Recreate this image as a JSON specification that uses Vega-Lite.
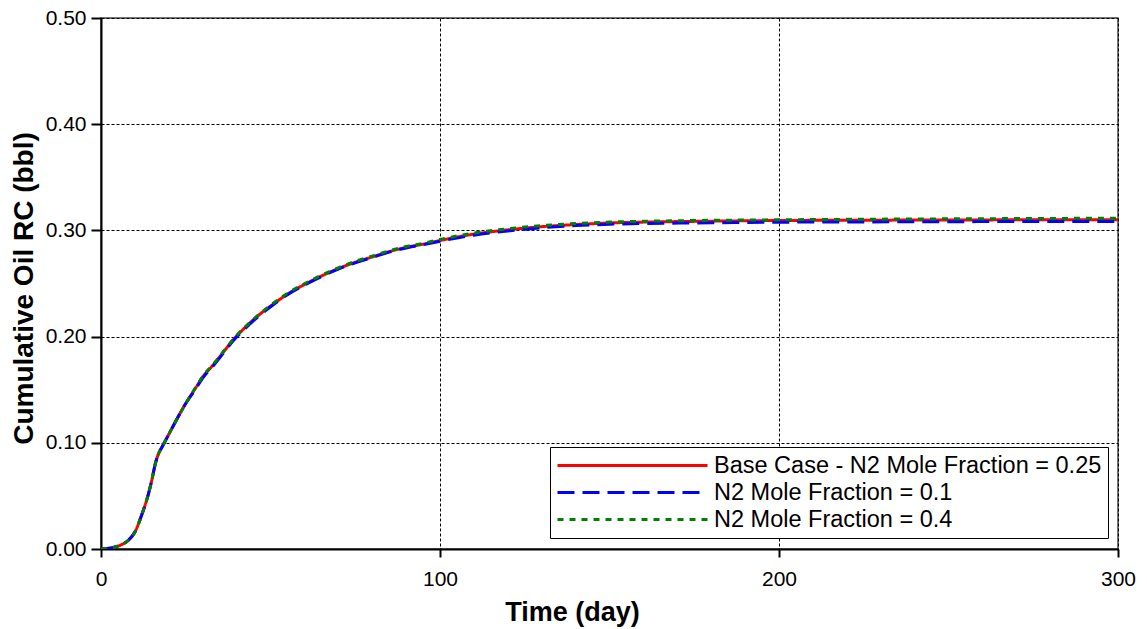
{
  "$schema": "https://vega.github.io/schema/vega-lite/v6.json",
  "autosize": {"type": "none"},
  "width": 1017,
  "height": 531,
  "padding": {"left": 101, "top": 18, "right": 29, "bottom": 80},
  "background": "white",
  "config": {
    "font": "Liberation Sans",
    "view": {"stroke": "#444", "strokeWidth": 1.5},
    "axis": {
      "domainColor": "black", "domainWidth": 2,
      "tickColor": "black", "tickWidth": 2,
      "gridColor": "black", "gridWidth": 1, "gridDash": [3, 2], "gridOpacity": 1,
      "labelColor": "black", "labelFont": "Liberation Sans", "labelFontSize": 21, "labelFlush": false,
      "titleColor": "black", "titleFont": "Liberation Sans", "titleFontSize": 27, "titleFontWeight": "bold"
    }
  },
  "data": {"values": [
    {"day": 0, "v": 0, "s": "Base Case - N2 Mole Fraction = 0.25"},
    {"day": 3, "v": 0.001, "s": "Base Case - N2 Mole Fraction = 0.25"},
    {"day": 6, "v": 0.004, "s": "Base Case - N2 Mole Fraction = 0.25"},
    {"day": 8, "v": 0.008, "s": "Base Case - N2 Mole Fraction = 0.25"},
    {"day": 10, "v": 0.016, "s": "Base Case - N2 Mole Fraction = 0.25"},
    {"day": 12, "v": 0.032, "s": "Base Case - N2 Mole Fraction = 0.25"},
    {"day": 14, "v": 0.052, "s": "Base Case - N2 Mole Fraction = 0.25"},
    {"day": 15, "v": 0.065, "s": "Base Case - N2 Mole Fraction = 0.25"},
    {"day": 16, "v": 0.08, "s": "Base Case - N2 Mole Fraction = 0.25"},
    {"day": 17, "v": 0.09, "s": "Base Case - N2 Mole Fraction = 0.25"},
    {"day": 18, "v": 0.096, "s": "Base Case - N2 Mole Fraction = 0.25"},
    {"day": 20, "v": 0.108, "s": "Base Case - N2 Mole Fraction = 0.25"},
    {"day": 22, "v": 0.12, "s": "Base Case - N2 Mole Fraction = 0.25"},
    {"day": 25, "v": 0.137, "s": "Base Case - N2 Mole Fraction = 0.25"},
    {"day": 28, "v": 0.152, "s": "Base Case - N2 Mole Fraction = 0.25"},
    {"day": 30, "v": 0.162, "s": "Base Case - N2 Mole Fraction = 0.25"},
    {"day": 33, "v": 0.173, "s": "Base Case - N2 Mole Fraction = 0.25"},
    {"day": 36, "v": 0.185, "s": "Base Case - N2 Mole Fraction = 0.25"},
    {"day": 39, "v": 0.197, "s": "Base Case - N2 Mole Fraction = 0.25"},
    {"day": 42, "v": 0.207, "s": "Base Case - N2 Mole Fraction = 0.25"},
    {"day": 45, "v": 0.216, "s": "Base Case - N2 Mole Fraction = 0.25"},
    {"day": 48, "v": 0.224, "s": "Base Case - N2 Mole Fraction = 0.25"},
    {"day": 51, "v": 0.231, "s": "Base Case - N2 Mole Fraction = 0.25"},
    {"day": 55, "v": 0.24, "s": "Base Case - N2 Mole Fraction = 0.25"},
    {"day": 60, "v": 0.249, "s": "Base Case - N2 Mole Fraction = 0.25"},
    {"day": 65, "v": 0.257, "s": "Base Case - N2 Mole Fraction = 0.25"},
    {"day": 70, "v": 0.264, "s": "Base Case - N2 Mole Fraction = 0.25"},
    {"day": 75, "v": 0.27, "s": "Base Case - N2 Mole Fraction = 0.25"},
    {"day": 80, "v": 0.275, "s": "Base Case - N2 Mole Fraction = 0.25"},
    {"day": 85, "v": 0.28, "s": "Base Case - N2 Mole Fraction = 0.25"},
    {"day": 90, "v": 0.284, "s": "Base Case - N2 Mole Fraction = 0.25"},
    {"day": 95, "v": 0.287, "s": "Base Case - N2 Mole Fraction = 0.25"},
    {"day": 100, "v": 0.2905, "s": "Base Case - N2 Mole Fraction = 0.25"},
    {"day": 110, "v": 0.2965, "s": "Base Case - N2 Mole Fraction = 0.25"},
    {"day": 120, "v": 0.3005, "s": "Base Case - N2 Mole Fraction = 0.25"},
    {"day": 130, "v": 0.3035, "s": "Base Case - N2 Mole Fraction = 0.25"},
    {"day": 140, "v": 0.3055, "s": "Base Case - N2 Mole Fraction = 0.25"},
    {"day": 150, "v": 0.307, "s": "Base Case - N2 Mole Fraction = 0.25"},
    {"day": 160, "v": 0.3078, "s": "Base Case - N2 Mole Fraction = 0.25"},
    {"day": 175, "v": 0.3085, "s": "Base Case - N2 Mole Fraction = 0.25"},
    {"day": 200, "v": 0.3093, "s": "Base Case - N2 Mole Fraction = 0.25"},
    {"day": 225, "v": 0.3096, "s": "Base Case - N2 Mole Fraction = 0.25"},
    {"day": 250, "v": 0.3098, "s": "Base Case - N2 Mole Fraction = 0.25"},
    {"day": 275, "v": 0.31, "s": "Base Case - N2 Mole Fraction = 0.25"},
    {"day": 300, "v": 0.3101, "s": "Base Case - N2 Mole Fraction = 0.25"},

    {"day": 0, "v": 0, "s": "N2 Mole Fraction = 0.1"},
    {"day": 3, "v": 0.001, "s": "N2 Mole Fraction = 0.1"},
    {"day": 6, "v": 0.004, "s": "N2 Mole Fraction = 0.1"},
    {"day": 8, "v": 0.008, "s": "N2 Mole Fraction = 0.1"},
    {"day": 10, "v": 0.016, "s": "N2 Mole Fraction = 0.1"},
    {"day": 12, "v": 0.032, "s": "N2 Mole Fraction = 0.1"},
    {"day": 14, "v": 0.052, "s": "N2 Mole Fraction = 0.1"},
    {"day": 15, "v": 0.065, "s": "N2 Mole Fraction = 0.1"},
    {"day": 16, "v": 0.08, "s": "N2 Mole Fraction = 0.1"},
    {"day": 17, "v": 0.09, "s": "N2 Mole Fraction = 0.1"},
    {"day": 18, "v": 0.096, "s": "N2 Mole Fraction = 0.1"},
    {"day": 20, "v": 0.108, "s": "N2 Mole Fraction = 0.1"},
    {"day": 22, "v": 0.12, "s": "N2 Mole Fraction = 0.1"},
    {"day": 25, "v": 0.137, "s": "N2 Mole Fraction = 0.1"},
    {"day": 28, "v": 0.151, "s": "N2 Mole Fraction = 0.1"},
    {"day": 30, "v": 0.161, "s": "N2 Mole Fraction = 0.1"},
    {"day": 33, "v": 0.172, "s": "N2 Mole Fraction = 0.1"},
    {"day": 36, "v": 0.184, "s": "N2 Mole Fraction = 0.1"},
    {"day": 39, "v": 0.196, "s": "N2 Mole Fraction = 0.1"},
    {"day": 42, "v": 0.206, "s": "N2 Mole Fraction = 0.1"},
    {"day": 45, "v": 0.215, "s": "N2 Mole Fraction = 0.1"},
    {"day": 48, "v": 0.223, "s": "N2 Mole Fraction = 0.1"},
    {"day": 51, "v": 0.2305, "s": "N2 Mole Fraction = 0.1"},
    {"day": 55, "v": 0.2395, "s": "N2 Mole Fraction = 0.1"},
    {"day": 60, "v": 0.2485, "s": "N2 Mole Fraction = 0.1"},
    {"day": 65, "v": 0.2565, "s": "N2 Mole Fraction = 0.1"},
    {"day": 70, "v": 0.2635, "s": "N2 Mole Fraction = 0.1"},
    {"day": 75, "v": 0.2695, "s": "N2 Mole Fraction = 0.1"},
    {"day": 80, "v": 0.2745, "s": "N2 Mole Fraction = 0.1"},
    {"day": 85, "v": 0.2795, "s": "N2 Mole Fraction = 0.1"},
    {"day": 90, "v": 0.2835, "s": "N2 Mole Fraction = 0.1"},
    {"day": 95, "v": 0.2865, "s": "N2 Mole Fraction = 0.1"},
    {"day": 100, "v": 0.2898, "s": "N2 Mole Fraction = 0.1"},
    {"day": 110, "v": 0.2955, "s": "N2 Mole Fraction = 0.1"},
    {"day": 120, "v": 0.2995, "s": "N2 Mole Fraction = 0.1"},
    {"day": 130, "v": 0.3025, "s": "N2 Mole Fraction = 0.1"},
    {"day": 140, "v": 0.3045, "s": "N2 Mole Fraction = 0.1"},
    {"day": 150, "v": 0.3058, "s": "N2 Mole Fraction = 0.1"},
    {"day": 160, "v": 0.3065, "s": "N2 Mole Fraction = 0.1"},
    {"day": 175, "v": 0.307, "s": "N2 Mole Fraction = 0.1"},
    {"day": 200, "v": 0.3077, "s": "N2 Mole Fraction = 0.1"},
    {"day": 225, "v": 0.308, "s": "N2 Mole Fraction = 0.1"},
    {"day": 250, "v": 0.3082, "s": "N2 Mole Fraction = 0.1"},
    {"day": 275, "v": 0.3084, "s": "N2 Mole Fraction = 0.1"},
    {"day": 300, "v": 0.3085, "s": "N2 Mole Fraction = 0.1"},

    {"day": 0, "v": 0, "s": "N2 Mole Fraction = 0.4"},
    {"day": 3, "v": 0.001, "s": "N2 Mole Fraction = 0.4"},
    {"day": 6, "v": 0.004, "s": "N2 Mole Fraction = 0.4"},
    {"day": 8, "v": 0.008, "s": "N2 Mole Fraction = 0.4"},
    {"day": 10, "v": 0.016, "s": "N2 Mole Fraction = 0.4"},
    {"day": 12, "v": 0.032, "s": "N2 Mole Fraction = 0.4"},
    {"day": 14, "v": 0.052, "s": "N2 Mole Fraction = 0.4"},
    {"day": 15, "v": 0.065, "s": "N2 Mole Fraction = 0.4"},
    {"day": 16, "v": 0.08, "s": "N2 Mole Fraction = 0.4"},
    {"day": 17, "v": 0.09, "s": "N2 Mole Fraction = 0.4"},
    {"day": 18, "v": 0.096, "s": "N2 Mole Fraction = 0.4"},
    {"day": 20, "v": 0.108, "s": "N2 Mole Fraction = 0.4"},
    {"day": 22, "v": 0.12, "s": "N2 Mole Fraction = 0.4"},
    {"day": 25, "v": 0.137, "s": "N2 Mole Fraction = 0.4"},
    {"day": 28, "v": 0.1525, "s": "N2 Mole Fraction = 0.4"},
    {"day": 30, "v": 0.1625, "s": "N2 Mole Fraction = 0.4"},
    {"day": 33, "v": 0.1735, "s": "N2 Mole Fraction = 0.4"},
    {"day": 36, "v": 0.1855, "s": "N2 Mole Fraction = 0.4"},
    {"day": 39, "v": 0.1975, "s": "N2 Mole Fraction = 0.4"},
    {"day": 42, "v": 0.2075, "s": "N2 Mole Fraction = 0.4"},
    {"day": 45, "v": 0.2165, "s": "N2 Mole Fraction = 0.4"},
    {"day": 48, "v": 0.2245, "s": "N2 Mole Fraction = 0.4"},
    {"day": 51, "v": 0.2318, "s": "N2 Mole Fraction = 0.4"},
    {"day": 55, "v": 0.2408, "s": "N2 Mole Fraction = 0.4"},
    {"day": 60, "v": 0.2498, "s": "N2 Mole Fraction = 0.4"},
    {"day": 65, "v": 0.2578, "s": "N2 Mole Fraction = 0.4"},
    {"day": 70, "v": 0.2648, "s": "N2 Mole Fraction = 0.4"},
    {"day": 75, "v": 0.2708, "s": "N2 Mole Fraction = 0.4"},
    {"day": 80, "v": 0.2758, "s": "N2 Mole Fraction = 0.4"},
    {"day": 85, "v": 0.2808, "s": "N2 Mole Fraction = 0.4"},
    {"day": 90, "v": 0.2848, "s": "N2 Mole Fraction = 0.4"},
    {"day": 95, "v": 0.2878, "s": "N2 Mole Fraction = 0.4"},
    {"day": 100, "v": 0.2915, "s": "N2 Mole Fraction = 0.4"},
    {"day": 110, "v": 0.2975, "s": "N2 Mole Fraction = 0.4"},
    {"day": 120, "v": 0.3015, "s": "N2 Mole Fraction = 0.4"},
    {"day": 130, "v": 0.3045, "s": "N2 Mole Fraction = 0.4"},
    {"day": 140, "v": 0.3065, "s": "N2 Mole Fraction = 0.4"},
    {"day": 150, "v": 0.3078, "s": "N2 Mole Fraction = 0.4"},
    {"day": 160, "v": 0.3086, "s": "N2 Mole Fraction = 0.4"},
    {"day": 175, "v": 0.3093, "s": "N2 Mole Fraction = 0.4"},
    {"day": 200, "v": 0.31, "s": "N2 Mole Fraction = 0.4"},
    {"day": 225, "v": 0.3105, "s": "N2 Mole Fraction = 0.4"},
    {"day": 250, "v": 0.3109, "s": "N2 Mole Fraction = 0.4"},
    {"day": 275, "v": 0.3112, "s": "N2 Mole Fraction = 0.4"},
    {"day": 300, "v": 0.3115, "s": "N2 Mole Fraction = 0.4"}
  ]},
  "mark": {"type": "line", "strokeWidth": 3, "interpolate": "monotone", "clip": true},
  "encoding": {
    "x": {
      "field": "day", "type": "quantitative",
      "scale": {"domain": [0, 300], "nice": false},
      "axis": {
        "title": "Time (day)", "values": [0, 100, 200, 300], "format": "d",
        "tickSize": 8, "labelPadding": 11,
        "titleX": 471, "titleY": 71, "titleBaseline": "alphabetic", "titleAlign": "center", "titleAnchor": null
      }
    },
    "y": {
      "field": "v", "type": "quantitative",
      "scale": {"domain": [0, 0.5], "nice": false},
      "axis": {
        "title": "Cumulative Oil RC (bbl)", "values": [0, 0.1, 0.2, 0.3, 0.4, 0.5], "format": ".2f",
        "tickSize": 10, "labelPadding": 5, "titleFontSize": 28,
        "titleX": -69, "titleY": 270, "titleAngle": -90, "titleBaseline": "alphabetic", "titleAlign": "center", "titleAnchor": null
      }
    },
    "color": {
      "field": "s", "type": "nominal",
      "scale": {
        "domain": ["Base Case - N2 Mole Fraction = 0.25", "N2 Mole Fraction = 0.1", "N2 Mole Fraction = 0.4"],
        "range": ["#ff0000", "#0000ff", "#008000"]
      },
      "legend": {
        "title": null, "orient": "none", "legendX": 449, "legendY": 429,
        "symbolType": "stroke", "symbolSize": 22500, "symbolStrokeWidth": 3,
        "clipHeight": 25, "rowPadding": 2, "padding": 6, "labelOffset": 5,
        "strokeColor": "black", "fillColor": "white",
        "labelFontSize": 23.5, "labelFont": "Liberation Sans", "labelColor": "black", "labelLimit": 0
      }
    },
    "strokeDash": {
      "field": "s", "type": "nominal",
      "scale": {
        "domain": ["Base Case - N2 Mole Fraction = 0.25", "N2 Mole Fraction = 0.1", "N2 Mole Fraction = 0.4"],
        "range": [[1, 0], [17, 8], [6, 6]]
      },
      "legend": {
        "title": null, "orient": "none", "legendX": 449, "legendY": 429,
        "symbolType": "stroke", "symbolSize": 22500, "symbolStrokeWidth": 3,
        "clipHeight": 25, "rowPadding": 2, "padding": 6, "labelOffset": 5,
        "strokeColor": "black", "fillColor": "white",
        "labelFontSize": 23.5, "labelFont": "Liberation Sans", "labelColor": "black", "labelLimit": 0
      }
    }
  }
}
